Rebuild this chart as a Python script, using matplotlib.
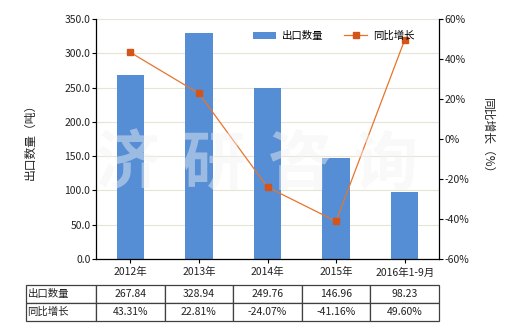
import matplotlib
matplotlib.use("Agg")
import matplotlib.pyplot as plt
import numpy as np

plt.rcParams['font.family'] = ['Noto Sans CJK SC', 'DejaVu Sans']

years = ['2012年', '2013年', '2014年', '2015年', '2016年1-9月']
export_qty = [267.84, 328.94, 249.76, 146.96, 98.23]
yoy_growth = [43.31, 22.81, -24.07, -41.16, 49.60]
qty_labels = ['267.84', '328.94', '249.76', '146.96', '98.23']
growth_labels = ['43.31%', '22.81%', '-24.07%', '-41.16%', '49.60%']

bar_color = '#558ed5'
line_color = '#e8742c'
marker_color = '#d4541a'
txt = '#222222'
fs = 7.5

fig = plt.figure(figsize=(5.2, 3.3), dpi=100)
W, H = 520, 330
ax = fig.add_axes([96 / W, 1 - 259 / H, (439 - 96) / W, 240 / H])

x = np.arange(len(years))
ax.bar(x, export_qty, width=0.4, color=bar_color, zorder=2, label='出口数量')
ax.set_xlim(-0.5, len(years) - 0.5)
ax.set_ylim(0, 350)
ax.set_yticks(np.arange(0, 351, 50))
ax.set_yticklabels([f'{v:.1f}' for v in np.arange(0, 351, 50)], fontsize=fs, color=txt)
ax.set_xticks(x)
ax.set_xticklabels(years, fontsize=fs, color=txt)
ax.tick_params(axis='x', length=3, width=0.8, pad=3)
ax.tick_params(axis='y', length=3, width=0.8, pad=1)
ax.grid(axis='y', color='#e6e4d4', linewidth=0.8, zorder=0)
ax.set_axisbelow(True)
for s in ['top', 'right']:
    ax.spines[s].set_visible(False)
ax.spines['left'].set_linewidth(0.9)
ax.spines['bottom'].set_linewidth(0.9)
ax.set_ylabel('出口数量（吨）', fontsize=fs + 1, color=txt, labelpad=20)

ax2 = ax.twinx()
ax2.plot(x, yoy_growth, color=line_color, linewidth=0.9, marker='s', markersize=4,
         markerfacecolor=marker_color, markeredgecolor=marker_color, zorder=3, label='同比增长')
ax2.set_ylim(-60, 60)
ax2.set_yticks(np.arange(-60, 61, 20))
ax2.set_yticklabels([f'{v}%' for v in range(-60, 61, 20)], fontsize=fs, color=txt)
ax2.tick_params(axis='y', length=3, width=0.8, pad=1)
for s in ['top', 'left', 'bottom']:
    ax2.spines[s].set_visible(False)
ax2.spines['right'].set_linewidth(0.9)
ax2.set_ylabel('同比增长（%）', fontsize=fs + 1, color=txt, rotation=270, labelpad=18)

# watermark
for i, ch in enumerate('济研咨询'):
    fig.text((128 + i * 86) / W, 1 - 165 / H, ch, fontsize=46, fontweight='bold',
             color='#f2f2f2', alpha=0.45, ha='center', va='center', zorder=10)

h1, l1 = ax.get_legend_handles_labels()
h2, l2 = ax2.get_legend_handles_labels()
ax2.legend(h1 + h2, l1 + l2, loc='upper left', bbox_to_anchor=(0.43, 0.99), ncol=2,
           frameon=False, fontsize=fs, handlelength=2.2, columnspacing=2.0,
           handletextpad=0.6)

# data table below
cells = [['出口数量'] + qty_labels, ['同比增长'] + growth_labels]
tw = (439 - 26) / 343
tb = ax.table(cellText=cells, cellLoc='center',
              colWidths=[70 / 413] + [68.6 / 413] * 5,
              bbox=[(26 - 96) / 343, (259 - 321) / 240, tw, 36 / 240])
tb.auto_set_font_size(False)
for (r, c), cell in tb.get_celld().items():
    cell.set_edgecolor('#404040')
    cell.set_linewidth(0.9)
    cell.set_text_props(fontsize=fs, color=txt)
    if c == 0:
        cell.set_text_props(ha='left')
        cell._loc = 'left'
        cell.PAD = 0.02

fig.savefig('out.png', dpi=100)
